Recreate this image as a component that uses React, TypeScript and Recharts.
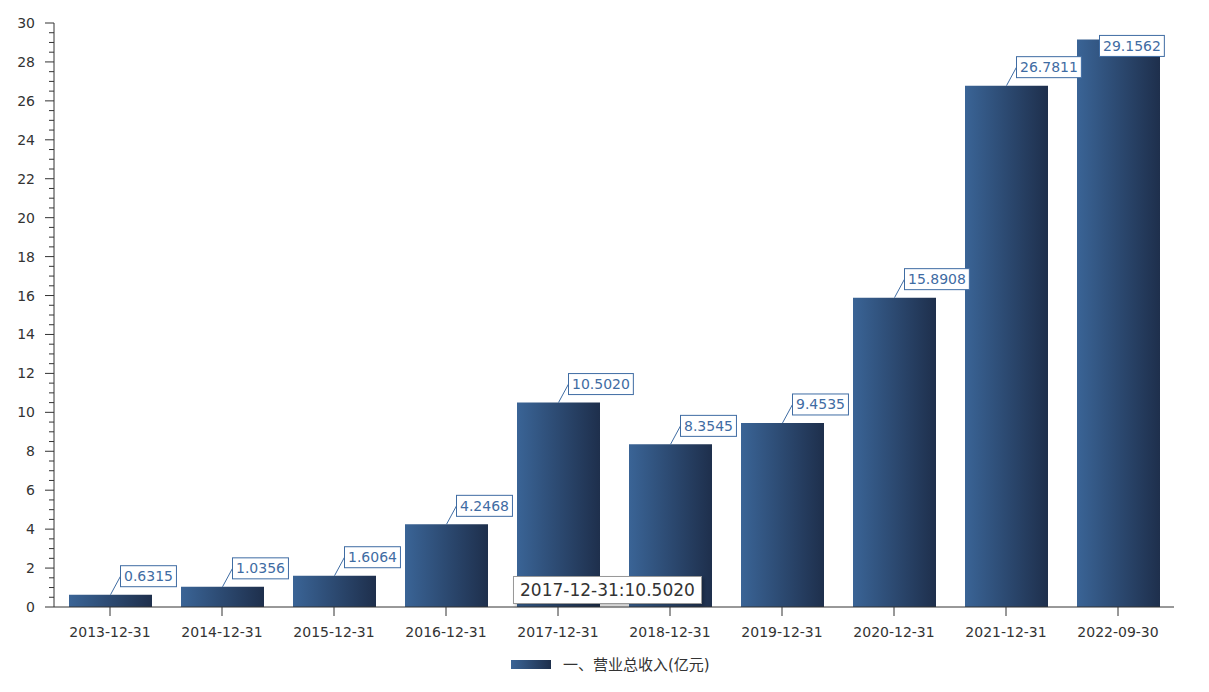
import { Bar, BarChart, LabelList, Legend, Tooltip, XAxis, YAxis } from "recharts";

const periods = [
  "2013-12-31",
  "2014-12-31",
  "2015-12-31",
  "2016-12-31",
  "2017-12-31",
  "2018-12-31",
  "2019-12-31",
  "2020-12-31",
  "2021-12-31",
  "2022-09-30"
];
const revenue = [0.6315, 1.0356, 1.6064, 4.2468, 10.502, 8.3545, 9.4535, 15.8908, 26.7811, 29.1562];
// every half unit gets a tick, labels only on even numbers
const yTicks = Array.from({ length: 61 }, (_, i) => i * 0.5);
const seriesName = "一、营业总收入(亿元)";

const data = periods.map((p, i) => ({ period: p, value: revenue[i] }));

const FONT = '"DejaVu Sans", "Noto Sans CJK SC", sans-serif';
const LABEL_COLOR = "#3f6ca3";
const PLOT_TOP = 23;

// rough text width for 14px DejaVu Sans digits
function textWidth(s: string) {
  let w = 0;
  for (const ch of s) w += ch === "." ? 4.45 : 8.9;
  return w;
}

function ValueLabel(props: any) {
  const { x, y, width, value } = props;
  const text = Number(value).toFixed(4);
  const cx = x + width / 2;
  const boxW = textWidth(text) + 7;
  const boxH = 21;
  let boxX = cx + 10;
  let boxY = y - 29;
  let showLine = true;
  if (boxY < PLOT_TOP) {
    boxX = cx - 19;
    boxY = y - 4;
    showLine = false;
  }
  return (
    <g>
      {showLine && (
        <line x1={cx} y1={y} x2={boxX} y2={boxY + boxH / 2} stroke={LABEL_COLOR} strokeWidth={1} />
      )}
      <rect x={boxX} y={boxY} width={boxW} height={boxH} fill="#fff" stroke={LABEL_COLOR} strokeWidth={1} />
      <text
        x={boxX + boxW / 2}
        y={boxY + boxH / 2}
        textAnchor="middle"
        dominantBaseline="central"
        fontSize={14}
        fontFamily={FONT}
        fill={LABEL_COLOR}
      >
        {text}
      </text>
    </g>
  );
}

function YTick(props: any) {
  const { x, y, payload } = props;
  const v = payload.value;
  const major = v % 2 === 0;
  return (
    <g>
      <line x1={x - (major ? 9 : 5)} y1={y} x2={x} y2={y} stroke="#333" />
      {major && (
        <text x={x - 19} y={y} textAnchor="end" dominantBaseline="central" fontSize={14} fontFamily={FONT} fill="#333">
          {v}
        </text>
      )}
    </g>
  );
}

function TipContent({ active, payload, label }: any) {
  if (!active || !payload || !payload.length) return null;
  return (
    <div
      style={{
        background: "#fff",
        border: "1px solid #999",
        boxShadow: "2px 2px 3px rgba(0,0,0,0.25)",
        padding: "0 6px",
        height: 26,
        lineHeight: "26px",
        fontSize: 17,
        fontFamily: FONT,
        color: "#333",
        whiteSpace: "nowrap"
      }}
    >
      {`${label}:${Number(payload[0].value).toFixed(4)}`}
    </div>
  );
}

function LegendContent() {
  return (
    <div
      style={{
        height: 44,
        display: "flex",
        justifyContent: "flex-start",
        alignItems: "flex-start",
        paddingTop: 7,
        paddingLeft: 511,
        boxSizing: "border-box",
        fontFamily: FONT,
        fontSize: 15,
        color: "#333"
      }}
    >
      <svg width={40} height={20} style={{ marginRight: 12 }}>
        <rect x={0} y={5} width={40} height={9} fill="url(#barGrad)" />
      </svg>
      <span style={{ lineHeight: "20px" }}>{seriesName}</span>
    </div>
  );
}

export default function App() {
  return (
    <div style={{ position: "absolute", left: 0, top: 0 }}>
      <BarChart width={1209} height={692} data={data} margin={{ top: PLOT_TOP, right: 35, bottom: 0, left: 0 }}>
        <defs>
          <linearGradient id="barGrad" x1="0" y1="0" x2="1" y2="0">
            <stop offset="0%" stopColor="#3a6496" />
            <stop offset="100%" stopColor="#1e2f4c" />
          </linearGradient>
        </defs>
        <XAxis
          dataKey="period"
          height={41}
          tickSize={9}
          tickMargin={11}
          interval={0}
          stroke="#333"
          tick={{ fill: "#333", fontSize: 14, fontFamily: FONT }}
        />
        <YAxis
          width={54}
          domain={[0, 30]}
          ticks={yTicks}
          interval={0}
          tickSize={0}
          tickMargin={0}
          tickLine={false}
          stroke="#333"
          tick={<YTick />}
        />
        <Tooltip
          content={<TipContent />}
          defaultIndex={4}
          active
          cursor={false}
          position={{ x: 513, y: 576 }}
          isAnimationActive={false}
        />
        <Legend verticalAlign="bottom" align="center" content={<LegendContent />} />
        <Bar dataKey="value" name={seriesName} fill="url(#barGrad)" barSize={83} isAnimationActive={false}>
          <LabelList dataKey="value" content={<ValueLabel />} />
        </Bar>
      </BarChart>
    </div>
  );
}
